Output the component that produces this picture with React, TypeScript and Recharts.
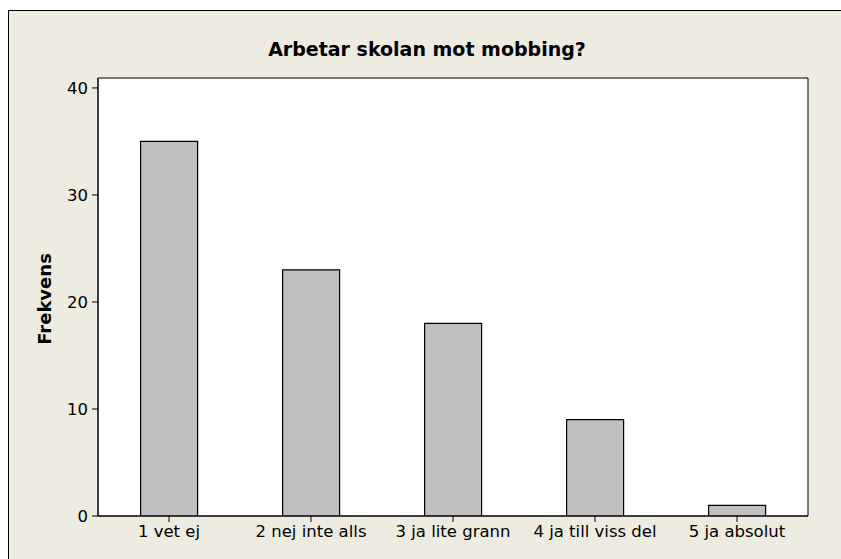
import { BarChart, Bar, XAxis, YAxis, CartesianGrid } from "recharts";

const categories = ["1 vet ej", "2 nej inte alls", "3 ja lite grann", "4 ja till viss del", "5 ja absolut"];
const frequencies = [35, 23, 18, 9, 1];
const yTicks = [0, 10, 20, 30, 40];

const data = categories.map((name, i) => ({ name, value: frequencies[i] }));

const font = "Tahoma, 'DejaVu Sans', sans-serif";
const tickStyle = { fontSize: 16.5, fill: "#000", fontFamily: font };

export default function App() {
  return (
    <div style={{ padding: "10px 0 0 8px", background: "#fff" }}>
      <style>{"body{margin:0;overflow:hidden}"}</style>
      <div
        style={{
          position: "relative",
          width: 833,
          height: 549,
          boxSizing: "border-box",
          borderTop: "1px solid #000",
          borderLeft: "1px solid #000",
          background: "#EEEBE1",
          overflow: "hidden",
        }}
      >
        <div
          style={{
            position: "absolute",
            left: 0,
            width: 836,
            top: 27,
            textAlign: "center",
            fontFamily: font,
            fontWeight: "bold",
            fontSize: 19,
            color: "#000",
          }}
        >
          Arbetar skolan mot mobbing?
        </div>
        <BarChart
          width={832}
          height={548}
          data={data}
          margin={{ top: 67, right: 33, left: 0, bottom: 0 }}
          barCategoryGap="30%"
        >
          <CartesianGrid
            fill="#fff"
            stroke="#000"
            horizontalCoordinatesGenerator={({ offset }: any) => [offset.top, offset.top + offset.height]}
            verticalCoordinatesGenerator={({ offset }: any) => [offset.left, offset.left + offset.width]}
          />
          <XAxis
            dataKey="name"
            height={43}
            tick={tickStyle}
            tickSize={6}
            tickMargin={3}
            axisLine={{ stroke: "#000" }}
            tickLine={{ stroke: "#000" }}
            interval={0}
          />
          <YAxis
            width={89}
            type="number"
            domain={[0, 40.93]}
            ticks={yTicks}
            tick={tickStyle}
            tickSize={6}
            tickMargin={4}
            axisLine={{ stroke: "#000" }}
            tickLine={{ stroke: "#000" }}
            allowDataOverflow
            label={{
              content: () => (
                <text
                  x={42}
                  y={288}
                  transform="rotate(-90 42 288)"
                  textAnchor="middle"
                  style={{ fontFamily: font, fontWeight: "bold", fontSize: 18, fill: "#000" }}
                >
                  Frekvens
                </text>
              ),
            }}
          />
          <Bar dataKey="value" fill="#C0C0C0" stroke="#000" strokeWidth={1.2} isAnimationActive={false} />
        </BarChart>
      </div>
    </div>
  );
}
